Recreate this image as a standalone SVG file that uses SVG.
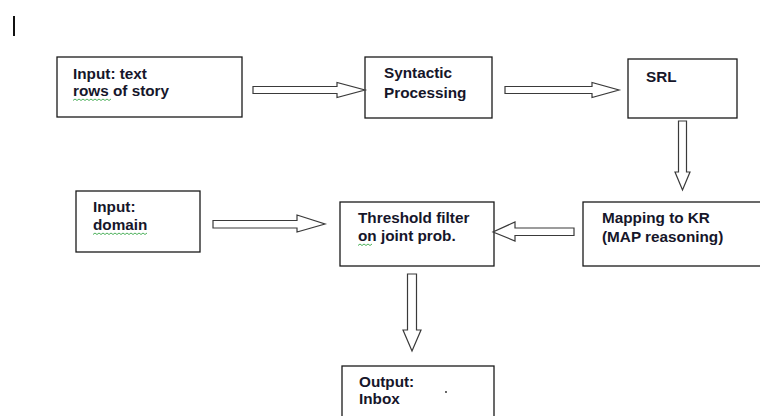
<svg xmlns="http://www.w3.org/2000/svg" width="760" height="416" viewBox="0 0 760 416">
  <style>
    .box { fill: #ffffff; stroke: #1a1a1a; stroke-width: 1.3; }
    .arrow { fill: #ffffff; stroke: #3a3a3a; stroke-width: 1.2; stroke-linejoin: miter; }
    .lbl { font-family: "Liberation Sans", Arial, sans-serif; font-weight: bold; font-size: 15.3px; fill: #16162a; }
    .spell { fill: none; stroke: #3aa84a; stroke-width: 0.9; }
  </style>
  <rect width="760" height="416" fill="#ffffff"/>
  <rect x="13" y="16" width="2" height="20" fill="#111111"/>

  <g id="node-input-text">
    <rect class="box" x="57" y="57" width="185" height="60"/>
    <text class="lbl" x="73" y="79">Input: text</text>
    <text class="lbl" x="73" y="96">rows of story</text>
    <path class="spell" d="M73,100.5 l2,-1.5 l2,1.5 l2,-1.5 l2,1.5 l2,-1.5 l2,1.5 l2,-1.5 l2,1.5 l2,-1.5 l2,1.5 l2,-1.5 l2,1.5 l2,-1.5 l2,1.5 l2,-1.5 l2,1.5 l2,-1.5 l2,1.5 l2,-1.5"/>
  </g>

  <g id="node-syntactic">
    <rect class="box" x="365" y="57" width="127" height="61"/>
    <text class="lbl" x="384" y="78">Syntactic</text>
    <text class="lbl" x="384" y="98">Processing</text>
  </g>

  <g id="node-srl">
    <rect class="box" x="628" y="59" width="109" height="59"/>
    <text class="lbl" x="646" y="82">SRL</text>
  </g>

  <g id="node-input-domain">
    <rect class="box" x="76" y="191" width="124" height="61"/>
    <text class="lbl" x="93" y="212">Input:</text>
    <text class="lbl" x="93" y="230">domain</text>
    <path class="spell" d="M93,234.5 l2,-1.5 l2,1.5 l2,-1.5 l2,1.5 l2,-1.5 l2,1.5 l2,-1.5 l2,1.5 l2,-1.5 l2,1.5 l2,-1.5 l2,1.5 l2,-1.5 l2,1.5 l2,-1.5 l2,1.5 l2,-1.5 l2,1.5 l2,-1.5 l2,1.5 l2,-1.5 l2,1.5 l2,-1.5 l2,1.5 l2,-1.5 l2,1.5 l2,-1.5"/>
  </g>

  <g id="node-threshold">
    <rect class="box" x="340" y="202" width="154" height="64"/>
    <text class="lbl" x="358" y="223">Threshold filter</text>
    <text class="lbl" x="358" y="241">on joint prob.</text>
    <path class="spell" d="M358,245.5 l2,-1.5 l2,1.5 l2,-1.5 l2,1.5 l2,-1.5 l2,1.5 l2,-1.5"/>
  </g>

  <g id="node-mapping">
    <rect class="box" x="583" y="202" width="185" height="64"/>
    <text class="lbl" x="602" y="223">Mapping to KR</text>
    <text class="lbl" x="602" y="242">(MAP reasoning)</text>
  </g>

  <g id="node-output">
    <rect class="box" x="342" y="366" width="152" height="60"/>
    <text class="lbl" x="359" y="387">Output:</text>
    <text class="lbl" x="359" y="404">Inbox</text>
    <circle cx="446" cy="392" r="0.9" fill="#222"/>
  </g>

  <g id="connectors">
    <polygon class="arrow" points="253,86.5 337,86.5 337,82.5 365,90 337,97.5 337,93.5 253,93.5"/>
    <polygon class="arrow" points="505,86.5 592,86.5 592,82.5 619,90 592,97.5 592,93.5 505,93.5"/>
    <polygon class="arrow" points="678.5,121 686.5,121 686.5,172 690,172 682.5,190 675,172 678.5,172"/>
    <polygon class="arrow" points="574,228 515,228 515,222 493,232 515,241 515,235.5 574,235.5"/>
    <polygon class="arrow" points="213,220.5 297,220.5 297,215 325,224 297,232 297,228 213,228"/>
    <polygon class="arrow" points="407.5,274 416.5,274 416.5,330 421,330 412,351 403,330 407.5,330"/>
  </g>
</svg>
